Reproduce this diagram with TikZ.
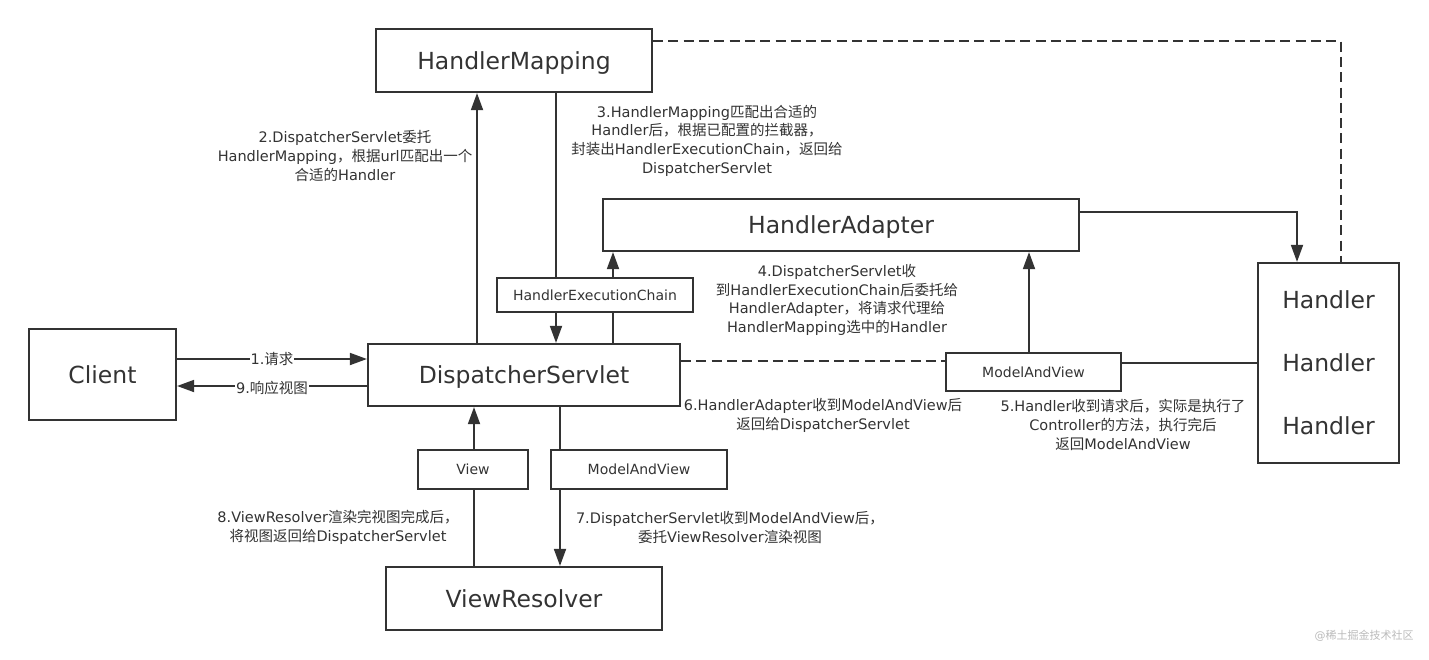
\documentclass[tikz,border=0pt]{standalone}
\usepackage{fontspec}
\setmainfont{DejaVu Sans}
\newfontfamily\cjkfont{Noto Sans CJK SC}
\newcommand\zh[1]{{\cjkfont #1}}
\usetikzlibrary{arrows.meta}
\definecolor{ink}{HTML}{333333}
\definecolor{wmgray}{HTML}{BBBBBB}
\begin{document}
\begin{tikzpicture}[x=1pt,y=-1pt,
  box/.style={draw=ink,line width=2.2pt,inner sep=0pt,text=ink,text depth=0pt,font=\fontsize{23.5}{28}\selectfont},
  smallbox/.style={draw=ink,line width=2.2pt,inner sep=0pt,text=ink,text depth=0pt,font=\fontsize{14}{17}\selectfont},
  conn/.style={draw=ink,line width=1.8pt},
  arr/.style={conn,-{Triangle[length=17pt,width=12pt]}},
  dashline/.style={draw=ink,line width=2.2pt,dash pattern=on 10pt off 5.3pt},
  note/.style={text=ink,align=center,inner sep=0pt,font=\fontsize{14.5}{18.7}\selectfont},
]
\useasboundingbox (0,0) rectangle (1429,659);
\fill[white] (0,0) rectangle (1429,659);

% nodes
\node[box,minimum width=276pt,minimum height=63pt] (HM) at (514,60.5) {HandlerMapping};
\node[box,minimum width=476pt,minimum height=52pt] (HA) at (841,225) {HandlerAdapter};
\node[smallbox,minimum width=196pt,minimum height=34pt] (HEC) at (595,295) {HandlerExecutionChain};
\node[box,minimum width=312pt,minimum height=62pt] (DS) at (524,375) {DispatcherServlet};
\node[box,minimum width=147pt,minimum height=91pt] (CL) at (102.5,374.5) {Client};
\node[smallbox,minimum width=175pt,minimum height=38pt] (MAV1) at (1033.5,372) {ModelAndView};
\node[smallbox,minimum width=110pt,minimum height=39pt] (VW) at (473,469.5) {View};
\node[smallbox,minimum width=176pt,minimum height=39pt] (MAV2) at (639,469.5) {ModelAndView};
\node[box,minimum width=276pt,minimum height=63pt] (VR) at (524,598.5) {ViewResolver};
\node[box,minimum width=141pt,minimum height=200pt,align=center,font=\fontsize{23.5}{63}\selectfont] (HD) at (1328.5,363) {Handler\\Handler\\Handler};

% helper coordinates
\coordinate (c477) at (477,0);
\coordinate (c556) at (556,0);
\coordinate (c613) at (613,0);
\coordinate (c474) at (474,0);
\coordinate (c560) at (560,0);
\coordinate (c1029) at (1029,0);
\coordinate (c1297) at (1297,0);
\coordinate (c1341) at (1341,0);
\coordinate (y41) at (0,41);
\coordinate (y212) at (0,212);
\coordinate (y359) at (0,359);
\coordinate (y361) at (0,361);
\coordinate (y363) at (0,363);
\coordinate (y386) at (0,386);

% connectors
\draw[arr] (CL.east |- y359) -- node[fill=white,inner sep=1pt,text=ink,font=\fontsize{14.5}{17}\selectfont] (l1) {1.\zh{请求}} (DS.west |- y359);
\draw[arr] (DS.west |- y386) -- node[fill=white,inner sep=1pt,text=ink,font=\fontsize{14.5}{17}\selectfont,yshift=-2pt] (l9) {9.\zh{响应视图}} (CL.east |- y386);

\draw[arr] (DS.north -| c477) -- (HM.south -| c477);
\draw[conn] (HM.south -| c556) -- (HEC.north -| c556);
\draw[arr] (HEC.south -| c556) -- (DS.north -| c556);
\draw[conn] (DS.north -| c613) -- (HEC.south -| c613);
\draw[arr] (HEC.north -| c613) -- (HA.south -| c613);

\draw[conn] (VR.north -| c474) -- (VW.south -| c474);
\draw[arr] (VW.north -| c474) -- (DS.south -| c474);
\draw[conn] (DS.south -| c560) -- (MAV2.north -| c560);
\draw[arr] (MAV2.south -| c560) -- (VR.north -| c560);

\draw[dashline] (DS.east |- y361) -- (MAV1.west |- y361);
\draw[arr] (MAV1.north -| c1029) -- (HA.south -| c1029);
\draw[conn] (HD.west |- y363) -- (MAV1.east |- y363);

\draw[arr] (HA.east |- y212) -| (HD.north -| c1297);
\draw[dashline] (HM.east |- y41) -| (HD.north -| c1341);

% notes
\node[note] (L2) at (345,156) {2.DispatcherServlet\zh{委托}\\HandlerMapping\zh{，根据}url\zh{匹配出一个}\\\zh{合适的}Handler};
\node[note] (L3) at (707,140.5) {3.HandlerMapping\zh{匹配出合适的}\\Handler\zh{后，根据已配置的拦截器，}\\\zh{封装出}HandlerExecutionChain\zh{，返回给}\\DispatcherServlet};
\node[note] (L4) at (837,300) {4.DispatcherServlet\zh{收}\\\zh{到}HandlerExecutionChain\zh{后委托给}\\HandlerAdapter\zh{，将请求代理给}\\HandlerMapping\zh{选中的}Handler};
\node[note] (L6) at (823,415.5) {6.HandlerAdapter\zh{收到}ModelAndView\zh{后}\\\zh{返回给}DispatcherServlet};
\node[note] (L5) at (1123,425) {5.Handler\zh{收到请求后，实际是执行了}\\Controller\zh{的方法，执行完后}\\\zh{返回}ModelAndView};
\node[note] (L7) at (730,527.5) {7.DispatcherServlet\zh{收到}ModelAndView\zh{后，}\\\zh{委托}ViewResolver\zh{渲染视图}};
\node[note] (L8) at (338,527.5) {8.ViewResolver\zh{渲染完视图完成后，}\\\zh{将视图返回给}DispatcherServlet};

\node[text=wmgray,inner sep=0pt,font=\fontsize{11}{13}\selectfont] (WM) at (1364,636) {@\zh{稀土掘金技术社区}};
\end{tikzpicture}
\end{document}
